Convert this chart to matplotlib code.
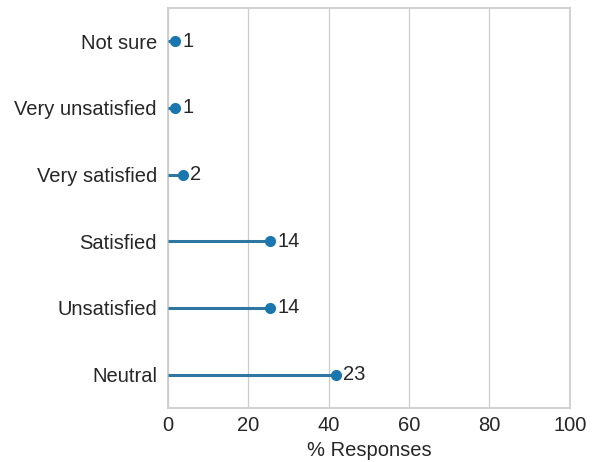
import matplotlib
matplotlib.use("Agg")
import matplotlib.pyplot as plt
import seaborn as sns

categories = ["Neutral", "Unsatisfied", "Satisfied", "Very satisfied", "Very unsatisfied", "Not sure"]
counts = [23, 14, 14, 2, 1, 1]
total = sum(counts)
percent = [c / total * 100 for c in counts]
xticks = [0, 20, 40, 60, 80, 100]

sns.set_theme(style="whitegrid")
plt.rcParams['font.family'] = ['Liberation Sans', 'DejaVu Sans']

fig = plt.figure(figsize=(5.93, 4.62), dpi=100)
ax = fig.add_axes([0.2833, 0.1169, 0.961 - 0.2833, 0.9827 - 0.1169])

fs = 14.5
color_line = "#2f77a0"
color_mark = "#1a76ae"
ypos = list(range(len(categories)))
ax.hlines(ypos, 0, percent, color=color_line, linewidth=2.2, zorder=3)
ax.plot(percent, ypos, "o", color=color_mark, markersize=7, zorder=4)
for y, p, c in zip(ypos, percent, counts):
    ax.text(p + 1.8, y, str(c), va="center", ha="left", fontsize=fs, color="#262626")

ax.set_yticks(ypos)
ax.set_yticklabels(categories, fontsize=fs, color="#262626")
ax.set_xticks(xticks)
ax.set_xticklabels([str(t) for t in xticks], fontsize=fs, color="#262626")
ax.set_xlim(0, 100)
ax.set_ylim(-0.5, len(categories) - 0.5)
ax.set_xlabel("% Responses", fontsize=fs, color="#262626", labelpad=4)
ax.grid(axis="y", visible=False)
ax.grid(axis="x", color="#cccccc", linewidth=0.9)
for s in ax.spines.values():
    s.set_color("#cccccc")
ax.tick_params(axis="y", length=0, pad=8)
ax.tick_params(axis="x", length=0, pad=6)

fig.savefig("out.png", dpi=100)
